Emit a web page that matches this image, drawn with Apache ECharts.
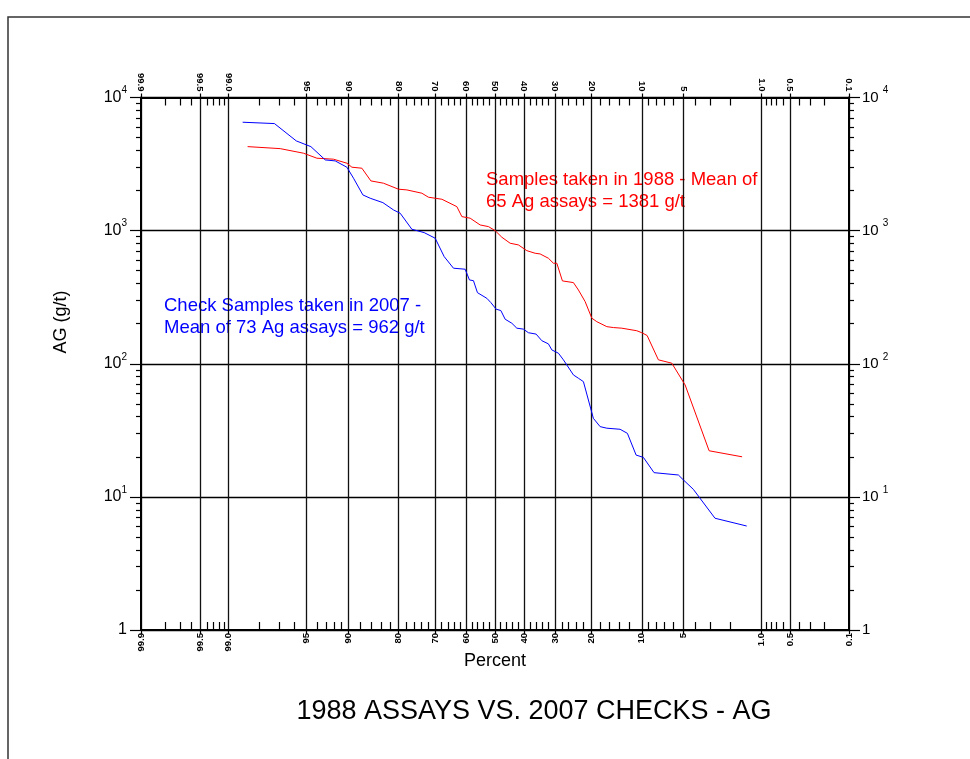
<!DOCTYPE html>
<html>
<head>
<meta charset="utf-8">
<script src="https://cdn.jsdelivr.net/npm/echarts@6/dist/echarts.min.js"></script>
<style>
  html, body { margin: 0; padding: 0; background: #fff; }
  #chart { width: 970px; height: 759px; }
</style>
</head>
<body>
<div id="chart"></div>
<script>
// Probability-scale axis: labelled percentages and the unlabelled minor divisions
const majorPercents = [99.9, 99.5, 99.0, 95, 90, 80, 70, 60, 50, 40, 30, 20, 10, 5, 1.0, 0.5, 0.1];
const majorPercentLabels = ['99.9', '99.5', '99.0', '95', '90', '80', '70', '60', '50', '40', '30', '20', '10', '5', '1.0', '0.5', '0.1'];
const minorPercents = [99.8, 99.7, 99.6, 99.4, 99.3, 99.2, 99.1, 98, 97, 96, 94, 93, 92, 91,
  88, 86, 84, 82, 78, 76, 74, 72, 68, 66, 64, 62, 58, 56, 54, 52, 48, 46, 44, 42,
  38, 36, 34, 32, 28, 26, 24, 22, 18, 16, 14, 12, 9, 8, 7, 6, 4, 3, 2,
  0.9, 0.8, 0.7, 0.6, 0.4, 0.3, 0.2];

// Log axis: decades and the in-between minor marks (2..9 per decade)
const agDecades = [1, 10, 100, 1000, 10000];
const minorMultipliers = [2, 3, 4, 5, 6, 7, 8, 9];

// 2007 check samples (blue): cumulative percent vs Ag g/t
const checkPercent = [98.62, 97.29, 95.86, 94.60, 93.08, 91.85, 90.20, 89.16, 87.56, 86.20,
  83.61, 81.22, 79.61, 76.60, 73.18, 69.93, 67.14, 64.15, 60.28, 58.82,
  57.46, 56.09, 52.83, 51.44, 49.60, 47.97, 46.47, 44.16, 42.44, 40.20,
  38.52, 35.98, 34.13, 32.05, 30.99, 28.99, 27.52, 24.68, 23.32, 22.01,
  19.52, 17.94, 16.45, 13.74, 12.39, 10.90, 9.76, 8.25, 5.47, 5.00,
  4.17, 2.74, 1.40];
const checkAg = [6520, 6370, 4720, 4275, 3397, 3340, 2995, 2475, 1854, 1751,
  1623, 1430, 1351, 1024, 966, 877, 638, 522, 513, 426,
  421, 342, 310, 288, 257, 251, 216, 201.5, 185, 182,
  171, 167, 149, 141, 127, 120, 107, 82.4, 77.8, 73.4,
  38.9, 33.7, 32.8, 32.2, 30.0, 20.6, 19.8, 15.2, 14.6, 13.4,
  11.4, 6.91, 6.04];

// 1988 samples (red): cumulative percent vs Ag g/t
const origPercent = [98.46, 96.96, 95.27, 94.00, 92.07, 90.20, 89.42, 87.74, 86.07, 83.48,
  80.02, 77.91, 73.84, 71.93, 67.86, 63.04, 61.38, 58.58, 55.16, 52.28,
  49.95, 47.62, 44.74, 41.90, 39.05, 36.30, 34.68, 32.05, 30.50, 29.47,
  27.81, 24.68, 23.32, 21.57, 19.90, 18.71, 16.45, 15.07, 13.42, 10.79,
  10.00, 9.21, 7.69, 6.14, 4.85, 3.08, 1.55];
const origAg = [4276, 4130, 3815, 3499, 3440, 3209, 2995, 2943, 2363, 2271,
  2047, 2022, 1910, 1782, 1721, 1514, 1274, 1240, 1103, 1072,
  1000, 892, 804, 781, 707, 676, 668, 620, 569, 569,
  419, 407, 358, 293, 220, 207, 190, 187, 185, 177,
  171, 163, 107, 101, 69.3, 22.2, 20.0];

// Inverse of the standard normal CDF (Acklam's rational approximation)
function probit(p) {
  const a = [-3.969683028665376e+01, 2.209460984245205e+02, -2.759285104469687e+02, 1.383577518672690e+02, -3.066479806614716e+01, 2.506628277459239e+00];
  const b = [-5.447609879822406e+01, 1.615858368580409e+02, -1.556989798598866e+02, 6.680131188771972e+01, -1.328068155288572e+01];
  const c = [-7.784894002430293e-03, -3.223964580411365e-01, -2.400758277161838e+00, -2.549732539343734e+00, 4.374664141464968e+00, 2.938163982698783e+00];
  const d = [7.784695709041462e-03, 3.224671290700398e-01, 2.445134137142996e+00, 3.754408661907416e+00];
  const pl = 0.02425, ph = 1 - pl;
  let q, r;
  if (p < pl) {
    q = Math.sqrt(-2 * Math.log(p));
    return (((((c[0] * q + c[1]) * q + c[2]) * q + c[3]) * q + c[4]) * q + c[5]) /
      ((((d[0] * q + d[1]) * q + d[2]) * q + d[3]) * q + 1);
  }
  if (p <= ph) {
    q = p - 0.5; r = q * q;
    return (((((a[0] * r + a[1]) * r + a[2]) * r + a[3]) * r + a[4]) * r + a[5]) * q /
      (((((b[0] * r + b[1]) * r + b[2]) * r + b[3]) * r + b[4]) * r + 1);
  }
  q = Math.sqrt(-2 * Math.log(1 - p));
  return -(((((c[0] * q + c[1]) * q + c[2]) * q + c[3]) * q + c[4]) * q + c[5]) /
    ((((d[0] * q + d[1]) * q + d[2]) * q + d[3]) * q + 1);
}
const toZ = pct => probit(pct / 100);

const majorZ = majorPercents.map(toZ);
const minorZ = minorPercents.map(toZ);
const zLow = toZ(0.1) - 1e-9;
const zHigh = toZ(99.9) + 1e-9;

const minorLogTicks = [];
for (let dcd = 0; dcd < agDecades.length - 1; dcd++) {
  minorMultipliers.forEach(m => minorLogTicks.push(Math.log10(agDecades[dcd] * m)));
}

function percentLabel(v) {
  let best = 0, bestD = Infinity;
  majorZ.forEach((z, i) => { const dd = Math.abs(z - v); if (dd < bestD) { bestD = dd; best = i; } });
  return majorPercentLabels[best];
}

const FONT = '"Liberation Sans", Arial, sans-serif';

const chart = echarts.init(document.getElementById('chart'), null, { renderer: 'canvas' });

const xMajorBase = {
  type: 'value', min: zLow, max: zHigh, inverse: true,
  axisLine: { show: true, onZero: false, lineStyle: { color: '#000', width: 2 } },
  axisTick: { show: true, customValues: majorZ, length: 4, inside: false, lineStyle: { color: '#000', width: 1.2 } },
  axisLabel: {
    show: true, customValues: majorZ, rotate: 90,
    fontSize: 9.5, fontWeight: 'bold', fontFamily: FONT, color: '#000',
    formatter: percentLabel
  }
};
const xMinorBase = {
  type: 'value', min: zLow, max: zHigh, inverse: true,
  axisLine: { show: false, onZero: false },
  axisTick: { show: true, customValues: minorZ, length: 8, inside: true, lineStyle: { color: '#000', width: 1.2 } },
  axisLabel: { show: false },
  splitLine: { show: false }
};

const yMajorBase = {
  type: 'log', logBase: 10, min: 1, max: 10000,
  axisLine: { show: true, onZero: false, lineStyle: { color: '#000', width: 2 } },
  axisTick: { show: true, length: 11, inside: false, lineStyle: { color: '#000', width: 1.2 } },
  minorTick: { show: false },
  splitLine: { show: false }
};
const yMinorBase = {
  type: 'value', min: 0, max: 4,
  axisLine: { show: false, onZero: false },
  axisTick: { show: true, customValues: minorLogTicks, length: 5, inside: false, lineStyle: { color: '#000', width: 1.2 } },
  axisLabel: { show: false },
  splitLine: { show: false }
};

function expOf(v) { return Math.round(Math.log10(v)); }

const option = {
  animation: false,
  backgroundColor: '#fff',
  grid: { left: 141, right: 121, top: 97.5, bottom: 129, containLabel: false, outerBoundsMode: 'none' },
  xAxis: [
    Object.assign({}, xMajorBase, {
      position: 'bottom',
      axisLabel: Object.assign({}, xMajorBase.axisLabel, { margin: 3 }),
      splitLine: { show: true, lineStyle: { color: '#111', width: 1.3 } }
    }),
    Object.assign({}, xMajorBase, {
      position: 'top',
      axisLabel: Object.assign({}, xMajorBase.axisLabel, { margin: 6 }),
      splitLine: { show: false }
    }),
    Object.assign({}, xMinorBase, { position: 'bottom' }),
    Object.assign({}, xMinorBase, { position: 'top' })
  ],
  yAxis: [
    Object.assign({}, yMajorBase, {
      position: 'left',
      splitLine: { show: true, lineStyle: { color: '#000', width: 1.3 } },
      axisLabel: {
        margin: 14, color: '#000', fontFamily: FONT,
        formatter: v => expOf(v) === 0 ? '{b|1}' : '{b|10}{s|' + expOf(v) + '}',
        rich: {
          b: { fontSize: 16, lineHeight: 24, fontFamily: FONT, color: '#000' },
          s: { fontSize: 10, lineHeight: 10, verticalAlign: 'top', fontFamily: FONT, color: '#000' }
        }
      }
    }),
    Object.assign({}, yMajorBase, {
      position: 'right',
      axisLabel: {
        margin: 13, color: '#000', fontFamily: FONT,
        formatter: v => expOf(v) === 0 ? '{b|1}' : '{b|10 }{s|' + expOf(v) + '}',
        rich: {
          b: { fontSize: 15, lineHeight: 24, fontFamily: FONT, color: '#000' },
          s: { fontSize: 10, lineHeight: 10, verticalAlign: 'top', fontFamily: FONT, color: '#000' }
        }
      }
    }),
    Object.assign({}, yMinorBase, { position: 'left' }),
    Object.assign({}, yMinorBase, { position: 'right' })
  ],
  series: [
    {
      name: '1988 samples', type: 'line', xAxisIndex: 0, yAxisIndex: 0,
      showSymbol: false, symbol: 'none', z: 5,
      lineStyle: { color: '#ff0000', width: 1 },
      data: origPercent.map((p, i) => [toZ(p), origAg[i]])
    },
    {
      name: '2007 checks', type: 'line', xAxisIndex: 0, yAxisIndex: 0,
      showSymbol: false, symbol: 'none', z: 5,
      lineStyle: { color: '#0000ff', width: 1 },
      data: checkPercent.map((p, i) => [toZ(p), checkAg[i]])
    }
  ],
  graphic: [
    {
      type: 'rect', z: -1, silent: true,
      shape: { x: 8, y: 17, width: 1000, height: 800 },
      style: { fill: 'none', stroke: '#333', lineWidth: 1.5 }
    },
    {
      type: 'text', x: 486, y: 169,
      style: {
        text: 'Samples taken in 1988 - Mean of\n65 Ag assays = 1381 g/t',
        font: '18.5px ' + FONT, fill: '#ff0000', lineHeight: 22, align: 'left', verticalAlign: 'top'
      }
    },
    {
      type: 'text', x: 164, y: 295,
      style: {
        text: 'Check Samples taken in 2007 -\nMean of 73 Ag assays = 962 g/t',
        font: '18.5px ' + FONT, fill: '#0000ff', lineHeight: 22, align: 'left', verticalAlign: 'top'
      }
    },
    {
      type: 'text', x: 61, y: 322, rotation: Math.PI / 2,
      style: { text: 'AG (g/t)', font: '18px ' + FONT, fill: '#000', align: 'center', verticalAlign: 'middle' }
    },
    {
      type: 'text', x: 495, y: 661,
      style: { text: 'Percent', font: '18px ' + FONT, fill: '#000', align: 'center', verticalAlign: 'middle' }
    },
    {
      type: 'text', x: 534, y: 712,
      style: { text: '1988 ASSAYS VS. 2007 CHECKS - AG', font: '27px ' + FONT, fill: '#000', align: 'center', verticalAlign: 'middle' }
    }
  ]
};

chart.setOption(option);
</script>
</body>
</html>
